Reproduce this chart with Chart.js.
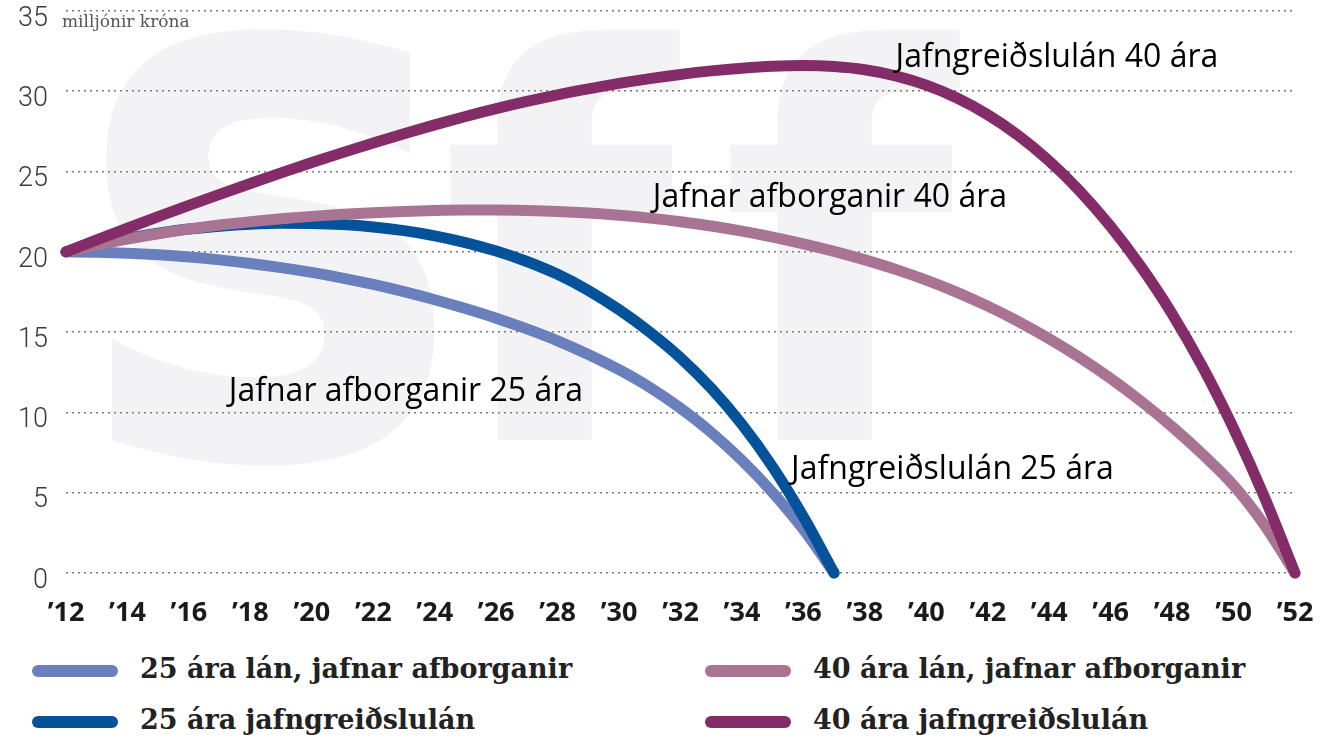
<!DOCTYPE html>
<html>
<head>
<meta charset="utf-8">
<script src="https://cdn.jsdelivr.net/npm/chart.js@4.4.1/dist/chart.umd.min.js"></script>
<style>
  html, body { margin: 0; padding: 0; background: #fff; }
  #wrap { position: relative; width: 1320px; height: 741px; overflow: hidden; }
  #chartBox { position: absolute; left: 0; top: 0; width: 1320px; height: 645px; }
  .leg { position: absolute; font-family: "DejaVu Serif", serif; font-weight: bold; font-size: 27px; color: #222; white-space: nowrap; line-height: 30px; }
  .sw { position: absolute; width: 86px; height: 12px; border-radius: 6px; }
</style>
</head>
<body>
<div id="wrap">
  <div id="chartBox"><canvas id="loanChart"></canvas></div>
  <div id="legend"></div>
</div>
<script>
// ár (x-ás)
const years = [2012, 2013, 2014, 2015, 2016, 2017, 2018, 2019, 2020, 2021, 2022,
  2023, 2024, 2025, 2026, 2027, 2028, 2029, 2030, 2031, 2032, 2033, 2034, 2035,
  2036, 2037, 2038, 2039, 2040, 2041, 2042, 2043, 2044, 2045, 2046, 2047, 2048,
  2049, 2050, 2051, 2052];
const xTickLabels = ['’12', '’14', '’16', '’18', '’20', '’22', '’24', '’26', '’28', '’30',
  '’32', '’34', '’36', '’38', '’40', '’42', '’44', '’46', '’48', '’50', '’52'];
const yTickValues = [0, 5, 10, 15, 20, 25, 30, 35];
const yUnit = 'milljónir króna';

// eftirstöðvar láns, milljónir króna
const even25 = [20.0, 19.98, 19.92, 19.82, 19.68, 19.5, 19.28, 19.02, 18.72, 18.37,
  17.97, 17.52, 17.02, 16.47, 15.87, 15.2, 14.46, 13.61, 12.66, 11.56, 10.26, 8.76,
  7.01, 5.01, 2.71, 0];
const annuity25 = [20.0, 20.45, 20.84, 21.16, 21.42, 21.6, 21.72, 21.78, 21.77, 21.7,
  21.55, 21.32, 21.0, 20.58, 20.05, 19.4, 18.6, 17.6, 16.4, 15.0, 13.4, 11.5, 9.25,
  6.6, 3.5, 0];
const even40 = [20.0, 20.42, 20.8, 21.13, 21.42, 21.67, 21.88, 22.06, 22.21, 22.34,
  22.44, 22.52, 22.58, 22.61, 22.61, 22.58, 22.52, 22.42, 22.28, 22.1, 21.88, 21.61,
  21.29, 20.92, 20.5, 20.03, 19.5, 18.91, 18.24, 17.48, 16.62, 15.66, 14.59, 13.41,
  12.11, 10.68, 9.11, 7.38, 5.46, 3.0, 0];
const annuity40 = [20.0, 20.74, 21.47, 22.19, 22.89, 23.58, 24.26, 24.92, 25.56, 26.18,
  26.78, 27.36, 27.91, 28.43, 28.92, 29.37, 29.78, 30.15, 30.49, 30.79, 31.05, 31.27,
  31.44, 31.56, 31.6, 31.54, 31.34, 30.96, 30.38, 29.58, 28.54, 27.24, 25.66, 23.78,
  21.58, 19.04, 16.14, 12.8, 9.0, 4.75, 0];

const seriesNames = ['25 ára lán, jafnar afborganir', '25 ára jafngreiðslulán',
  '40 ára lán, jafnar afborganir', '40 ára jafngreiðslulán'];
const curveLabels = ['Jafnar afborganir 25 ára', 'Jafngreiðslulán 25 ára',
  'Jafnar afborganir 40 ára', 'Jafngreiðslulán 40 ára'];

const colors = ['#6a80bd', '#04529a', '#a97493', '#842c68'];

const toPoints = vals => vals.map((v, i) => ({ x: years[i], y: v }));

// dauft merki í bakgrunni
const watermark = {
  id: 'watermark',
  beforeDraw(chart) {
    const ctx = chart.ctx;
    ctx.save();
    ctx.fillStyle = '#f3f3f6';
    ctx.font = 'bold 760px "DejaVu Sans"';
    ctx.save();
    ctx.translate(72, 455);
    ctx.scale(0.87, 1);
    ctx.fillText('s', 0, 0);
    ctx.restore();
    ctx.font = 'bold 540px "DejaVu Sans"';
    ctx.fillText('f', 440, 440);
    ctx.fillText('f', 720, 440);
    ctx.restore();
  }
};

// texti við ferlana og eining y-ás
const textLayer = {
  id: 'textLayer',
  afterDatasetsDraw(chart) {
    const { ctx, scales: { x, y }, chartArea } = chart;
    const anchors = [[2017.3, 11.3], [2035.6, 6.4], [2031.1, 23.35], [2039.0, 32.1]];
    ctx.save();
    ctx.fillStyle = '#000';
    ctx.font = '32px "Open Sans"';
    ctx.textBaseline = 'middle';
    ctx.textAlign = 'left';
    curveLabels.forEach((t, i) => {
      ctx.fillText(t, x.getPixelForValue(anchors[i][0]), y.getPixelForValue(anchors[i][1]));
    });
    ctx.fillStyle = '#555';
    ctx.font = '17px "DejaVu Serif"';
    ctx.fillText(yUnit, chartArea.left - 4, chartArea.top + 12);
    ctx.restore();
  }
};

const datasets = [even25, annuity25, even40, annuity40].map((vals, i) => ({
  label: seriesNames[i],
  data: toPoints(vals),
  borderColor: colors[i],
  backgroundColor: colors[i],
  borderWidth: 11,
  borderCapStyle: 'round',
  borderJoinStyle: 'round',
  pointRadius: 0,
  cubicInterpolationMode: 'monotone',
  clip: false,
  order: 3 - i
}));

new Chart(document.getElementById('loanChart'), {
  type: 'line',
  data: { datasets },
  options: {
    responsive: true,
    maintainAspectRatio: false,
    animation: false,
    events: [],
    layout: { padding: { top: 11, right: 25, bottom: 0, left: 0 } },
    plugins: {
      legend: { display: false },
      tooltip: { enabled: false }
    },
    scales: {
      x: {
        type: 'linear',
        min: 2012,
        max: 2052,
        afterFit: s => { s.height = 72; s.paddingLeft = 0; s.paddingRight = 0; },
        afterBuildTicks: s => { s.ticks = years.filter((yr, i) => i % 2 === 0).map(v => ({ value: v })); },
        grid: { display: false, drawTicks: false },
        border: { display: false },
        ticks: {
          padding: 24,
          color: '#1a1a1a',
          font: { family: 'Open Sans', weight: 'bold', size: 27 },
          maxRotation: 0,
          autoSkip: false,
          callback: v => xTickLabels[(v - 2012) / 2]
        }
      },
      y: {
        min: 0,
        max: 35,
        afterFit: s => { s.width = 66; s.paddingTop = 0; s.paddingBottom = 0; },
        afterBuildTicks: s => { s.ticks = yTickValues.map(v => ({ value: v })); },
        grid: {
          color: '#7a7a7a',
          lineWidth: 1.6,
          drawTicks: false
        },
        border: { display: false, dash: [2, 4] },
        ticks: {
          padding: 18,
          labelOffset: 8,
          color: '#3a3a3a',
          font: { family: 'Roboto', weight: 300, size: 27 }
        }
      }
    }
  },
  plugins: [watermark, textLayer]
});

// skýringar neðst
const legendPos = [[32, 671], [32, 722], [705, 671], [705, 722]];
const legend = document.getElementById('legend');
seriesNames.forEach((name, i) => {
  const sw = document.createElement('div');
  sw.className = 'sw';
  sw.style.left = legendPos[i][0] + 'px';
  sw.style.top = (legendPos[i][1] - 6) + 'px';
  sw.style.background = colors[i];
  legend.appendChild(sw);
  const tx = document.createElement('div');
  tx.className = 'leg';
  tx.textContent = name;
  tx.style.left = (legendPos[i][0] + 108) + 'px';
  tx.style.top = (legendPos[i][1] - 17) + 'px';
  legend.appendChild(tx);
});
</script>
</body>
</html>
